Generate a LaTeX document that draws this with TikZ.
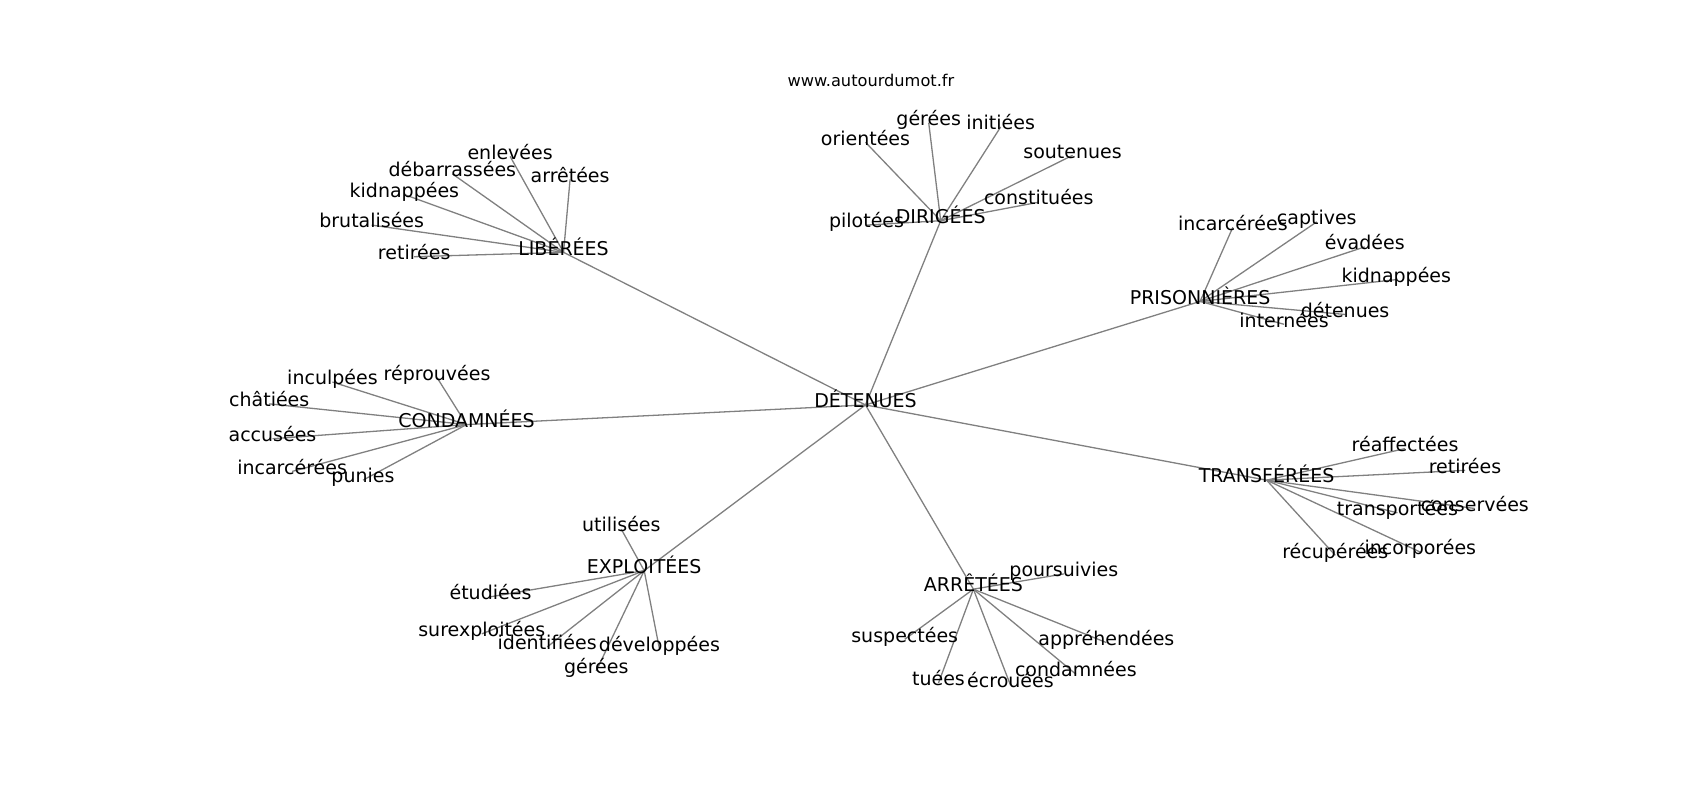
\documentclass[tikz,border=0pt]{standalone}
\usepackage{fontspec}
\setmainfont{DejaVu Sans}
\usetikzlibrary{backgrounds}
\tikzset{
  lbl/.style={inner sep=0pt, anchor=center, font=\fontsize{19pt}{22pt}\selectfont, text height=0.76em, text depth=0.21em},
  ttl/.style={inner sep=0pt, anchor=center, font=\fontsize{16.2pt}{19pt}\selectfont, text height=0.76em, text depth=0.21em},
  edge/.style={draw={rgb,255:red,128;green,128;blue,128}, line width=1.3pt}
}
\begin{document}
\begin{tikzpicture}[x=1.09pt,y=-1.09pt]
\useasboundingbox (0,0) rectangle (1559.6,733.9);
\node[ttl] (title) at (799,77) {www.autourdumot.fr};
\begin{scope}[shift={(-3,-1.5)}]
% center
\node[lbl] (D) at (797,373) {DÉTENUES};
% hubs
\node[lbl] (LIB) at (520,233) {LIBÉRÉES};
\node[lbl] (DIR) at (866,204) {DIRIGÉES};
\node[lbl] (PRI) at (1104,278) {PRISONNIÈRES};
\node[lbl] (CON) at (431,391) {CONDAMNÉES};
\node[lbl] (TRA) at (1165,442) {TRANSFÉRÉES};
\node[lbl] (EXP) at (594,525) {EXPLOITÉES};
\node[lbl] (ARR) at (896,542) {ARRÊTÉES};
% LIB leaves
\node[lbl] (l1) at (471,145) {enlevées};
\node[lbl] (l2) at (418,161) {débarrassées};
\node[lbl] (l3) at (526,166) {arrêtées};
\node[lbl] (l4) at (374,180) {kidnappées};
\node[lbl] (l5) at (344,208) {brutalisées};
\node[lbl] (l6) at (383,237) {retirées};
% DIR leaves
\node[lbl] (d1) at (797,132) {orientées};
\node[lbl] (d2) at (855,114) {gérées};
\node[lbl] (d3) at (921,118) {initiées};
\node[lbl] (d4) at (987,144) {soutenues};
\node[lbl] (d5) at (956,187) {constituées};
\node[lbl] (d6) at (798,208) {pilotées};
% PRI leaves
\node[lbl] (p1) at (1134,210) {incarcérées};
\node[lbl] (p2) at (1211,205) {captives};
\node[lbl] (p3) at (1255,228) {évadées};
\node[lbl] (p4) at (1284,258) {kidnappées};
\node[lbl] (p5) at (1237,290) {détenues};
\node[lbl] (p6) at (1181,299) {internées};
% CON leaves
\node[lbl] (c1) at (308,352) {inculpées};
\node[lbl] (c2) at (404,348) {réprouvées};
\node[lbl] (c3) at (250,372) {châtiées};
\node[lbl] (c4) at (253,404) {accusées};
\node[lbl] (c5) at (271,434) {incarcérées};
\node[lbl] (c6) at (336,442) {punies};
% TRA leaves
\node[lbl] (t1) at (1292,413) {réaffectées};
\node[lbl] (t2) at (1347,433) {retirées};
\node[lbl] (t3) at (1356,468) {conservées};
\node[lbl] (t4) at (1285,472) {transportées};
\node[lbl] (t5) at (1228,511) {récupérées};
\node[lbl] (t6) at (1306,508) {incorporées};
% EXP leaves
\node[lbl] (e1) at (573,487) {utilisées};
\node[lbl] (e2) at (453,549) {étudiées};
\node[lbl] (e3) at (445,583) {surexploitées};
\node[lbl] (e4) at (505,595) {identifiées};
\node[lbl] (e5) at (608,597) {développées};
\node[lbl] (e6) at (550,617) {gérées};
% ARR leaves
\node[lbl] (a1) at (979,528) {poursuivies};
\node[lbl] (a2) at (833,588) {suspectées};
\node[lbl] (a3) at (1018,591) {appréhendées};
\node[lbl] (a4) at (990,620) {condamnées};
\node[lbl] (a5) at (864,628) {tuées};
\node[lbl] (a6) at (930,630) {écrouées};
\end{scope}
\begin{scope}[on background layer]
\foreach \h in {LIB,DIR,PRI,CON,TRA,EXP,ARR} \draw[edge] (D.center) -- (\h.center);
\foreach \n in {l1,l2,l3,l4,l5,l6} \draw[edge] (LIB.center) -- (\n.center);
\foreach \n in {d1,d2,d3,d4,d5,d6} \draw[edge] (DIR.center) -- (\n.center);
\foreach \n in {p1,p2,p3,p4,p5,p6} \draw[edge] (PRI.center) -- (\n.center);
\foreach \n in {c1,c2,c3,c4,c5,c6} \draw[edge] (CON.center) -- (\n.center);
\foreach \n in {t1,t2,t3,t4,t5,t6} \draw[edge] (TRA.center) -- (\n.center);
\foreach \n in {e1,e2,e3,e4,e5,e6} \draw[edge] (EXP.center) -- (\n.center);
\foreach \n in {a1,a2,a3,a4,a5,a6} \draw[edge] (ARR.center) -- (\n.center);
\end{scope}
\end{tikzpicture}
\end{document}
